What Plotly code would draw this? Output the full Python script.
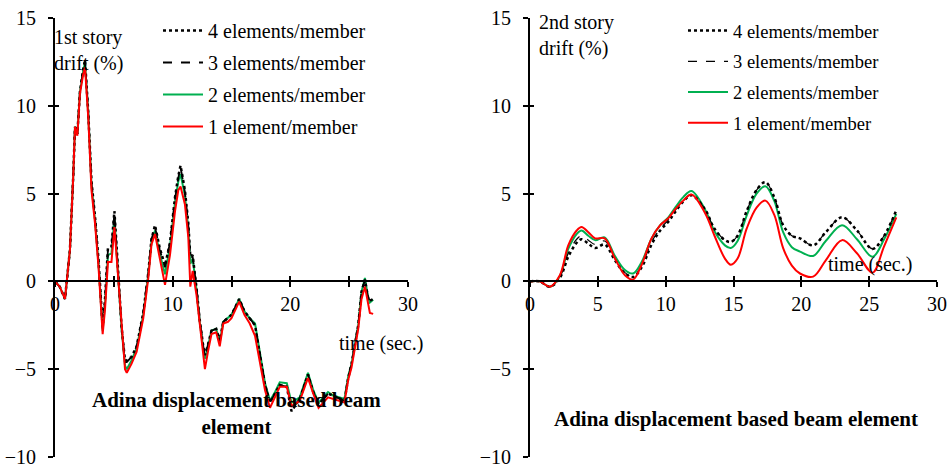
import plotly.graph_objects as go

# ---------------- data: 1st story (left) ----------------
t_left = [0, 0.4, 0.85, 1.27, 1.55, 1.7, 1.9, 2.12, 2.4, 2.55, 2.83, 3.1, 3.4, 3.7, 4.05, 4.25,
          4.5, 4.8, 5.05, 5.4, 5.66, 5.95, 6.1, 6.5, 6.94, 7.5, 7.93, 8.2, 8.5, 8.9, 9.35, 9.77,
          10.2, 10.48, 10.67, 11.04, 11.33, 11.5, 11.7, 12.03, 12.3, 12.6, 12.74, 13.0, 13.3, 13.7,
          14.0, 14.3, 14.7, 15.0, 15.3, 15.65, 16.1, 16.55, 17.0, 17.4, 17.85, 18.27, 18.7, 19.1,
          19.7, 20.1, 20.8, 21.5, 21.95, 22.4, 23.2, 23.65, 24.2, 24.6, 24.92, 25.2, 25.77, 26.05,
          26.34, 26.6, 26.76, 27.04]

left_1el = [0, -0.3, -1.0, 1.8, 6.0, 8.8, 8.3, 10.7, 11.8, 12.2, 9.3, 5.2, 3.3, 0.8, -3.0, -1.6,
            1.1, 1.1, 3.1, -0.1, -2.9, -5.0, -5.2, -4.7, -4.0, -2.1, 0.2, 2.1, 2.7, 1.3, -0.2, 1.5,
            4.0, 5.2, 5.4, 4.4, 2.5, -0.3, 0.6, -0.8, -2.5, -4.0, -5.0, -4.0, -3.0, -2.9,
            -3.7, -2.4, -2.3, -2.1, -1.7, -1.15, -1.9, -2.4, -3.1, -4.6, -6.2, -7.2, -6.6, -6.0,
            -6.0, -7.1, -6.8, -5.5, -6.4, -7.2, -6.6, -6.7, -6.8, -6.9, -5.6, -4.9, -2.7, -1.0,
            -0.3, -1.2, -1.8, -1.85]

left_2el = [0, -0.3, -1.0, 1.8, 6.0, 8.8, 8.4, 10.8, 12.0, 12.45, 9.5, 5.5, 3.5, 1.0, -2.8, -1.3,
            1.5, 1.6, 3.6, 0.2, -2.7, -4.8, -5.0, -4.5, -3.8, -1.9, 0.4, 2.3, 2.9, 1.6, 0.4, 2.0,
            4.5, 5.7, 6.1, 4.9, 3.0, 1.0, 1.3, -0.5, -2.3, -3.8, -4.4, -3.7, -2.8, -2.7,
            -3.5, -2.3, -2.1, -1.9, -1.5, -1.0, -1.7, -2.1, -2.4, -4.0, -5.8, -6.8, -6.3, -5.75,
            -5.8, -6.9, -6.6, -5.2, -6.2, -6.9, -6.3, -6.5, -6.6, -6.7, -5.4, -4.7, -2.5, -0.6,
            0.2, -0.9, -1.2, -1.05]

left_3el = [0, -0.3, -1.0, 1.8, 6.0, 8.8, 8.4, 10.8, 12.1, 12.55, 9.6, 5.6, 3.6, 1.1, -2.7, -1.1,
            1.8, 1.9, 3.9, 0.3, -2.6, -4.6, -4.6, -4.3, -3.7, -1.8, 0.5, 2.4, 3.1, 1.8, 0.8, 2.2,
            4.7, 5.9, 6.5, 5.1, 3.2, 1.3, 1.4, -0.4, -2.2, -3.7, -4.3, -3.6, -2.8, -2.7,
            -3.4, -2.3, -2.1, -1.9, -1.5, -1.0, -1.7, -2.1, -2.5, -4.1, -5.9, -6.9, -6.4, -5.9,
            -6.0, -7.3, -6.7, -5.3, -6.3, -7.0, -6.4, -6.5, -6.7, -6.8, -5.5, -4.7, -2.5, -0.6,
            0.1, -0.9, -1.1, -1.0]

left_4el = [0, -0.3, -1.0, 1.8, 6.0, 8.8, 8.4, 10.8, 12.1, 12.6, 9.6, 5.7, 3.7, 1.2, -2.6, -1.0,
            1.9, 2.0, 4.0, 0.3, -2.6, -4.5, -4.5, -4.3, -3.7, -1.8, 0.5, 2.4, 3.2, 1.9, 0.9, 2.2,
            4.8, 6.0, 6.6, 5.2, 3.3, 1.4, 1.5, -0.4, -2.2, -3.7, -4.2, -3.6, -2.8, -2.7,
            -3.4, -2.3, -2.1, -1.9, -1.5, -1.0, -1.7, -2.1, -2.5, -4.1, -5.9, -6.9, -6.4, -5.9,
            -6.0, -7.4, -6.7, -5.3, -6.3, -7.0, -6.4, -6.5, -6.7, -6.8, -5.5, -4.7, -2.5, -0.6,
            0.1, -0.9, -1.1, -1.0]

# ---------------- data: 2nd story (right) ----------------
t_right = [0, 0.7, 1.47, 2.2, 2.82, 3.44, 3.8, 4.3, 4.8, 5.5, 6.26, 7.0, 7.6, 8.23, 8.96, 9.6,
           10.2, 10.7, 11.3, 11.9, 12.9, 13.6, 14.37, 14.8, 15.3, 15.97, 16.7, 17.35, 18.0,
           18.66, 19.3, 19.9, 20.87, 21.8, 23.0, 24.1, 25.25, 26.1, 27.0]

right_1el = [0, 0, -0.3, 0.35, 2.05, 2.9, 3.1, 2.8, 2.45, 2.45, 1.3, 0.35, 0.1, 0.95, 2.45, 3.2,
             3.6, 4.1, 4.6, 4.95, 3.9, 2.6, 1.3, 0.95, 1.3, 3.0, 4.2, 4.6, 3.8,
             1.9, 0.9, 0.45, 0.27, 1.2, 2.35, 1.6, 0.5, 2.0, 3.65]

right_2el = [0, 0, -0.3, 0.3, 1.85, 2.7, 2.9, 2.6, 2.35, 2.5, 1.45, 0.65, 0.45, 1.1, 2.45, 3.2,
             3.65, 4.2, 4.8, 5.15, 4.1, 2.85, 2.05, 1.9, 2.3, 3.75, 5.0, 5.42, 4.6,
             2.8, 1.95, 1.7, 1.45, 2.3, 3.2, 2.4, 1.4, 2.4, 3.85]

right_3el = [0, 0, -0.3, 0.25, 1.6, 2.4, 2.6, 2.35, 2.1, 2.3, 1.3, 0.5, 0.3, 0.9, 2.25, 3.0,
             3.5, 4.05, 4.6, 4.95, 4.1, 3.0, 2.35, 2.25, 2.6, 4.0, 5.2, 5.65, 4.8,
             3.2, 2.6, 2.45, 2.05, 2.8, 3.65, 2.9, 1.85, 2.6, 4.05]

right_4el = [0, 0, -0.3, 0.2, 1.4, 2.2, 2.4, 2.15, 1.9, 2.1, 1.2, 0.45, 0.25, 0.8, 2.1, 2.9,
             3.4, 3.95, 4.55, 4.9, 4.1, 3.0, 2.35, 2.25, 2.6, 4.0, 5.2, 5.65, 4.8,
             3.2, 2.6, 2.45, 2.05, 2.8, 3.65, 2.9, 1.85, 2.6, 4.05]

names = ["4 elements/member", "3 elements/member", "2 elements/member", "1 element/member"]
x_ticks = [0, 5, 10, 15, 20, 25, 30]
x_text_left = ["0", "", "10", "", "20", "", "30"]
x_text_right = ["0", "5", "10", "15", "20", "25", "30"]
y_ticks = [-10, -5, 0, 5, 10, 15]

FONT = "Liberation Serif"
GREEN = "#00B050"
RED = "#FF0000"

fig = go.Figure()

# draw order: green, dashed, dotted, red (red on top); legend order via legendrank
def add_series(t, vals, xa, ya, legend, shape, thin_dash):
    fig.add_trace(go.Scatter(x=t, y=vals[2], xaxis=xa, yaxis=ya, mode="lines", name=names[2],
                             legend=legend, legendrank=3, legendgroup=legend + "c",
                             line=dict(color=GREEN, width=2, shape=shape)))
    fig.add_trace(go.Scatter(x=t, y=vals[1], xaxis=xa, yaxis=ya, mode="lines", name=names[1],
                             legend=legend, legendrank=2, legendgroup=legend + "b",
                             line=dict(color="black", width=thin_dash, dash="dash", shape=shape)))
    fig.add_trace(go.Scatter(x=t, y=vals[0], xaxis=xa, yaxis=ya, mode="lines", name=names[0],
                             legend=legend, legendrank=1, legendgroup=legend + "a",
                             line=dict(color="black", width=2.5, dash="dot", shape=shape)))
    fig.add_trace(go.Scatter(x=t, y=vals[3], xaxis=xa, yaxis=ya, mode="lines", name=names[3],
                             legend=legend, legendrank=4, legendgroup=legend + "d",
                             line=dict(color=RED, width=2, shape=shape)))

add_series(t_left, [left_4el, left_3el, left_2el, left_1el], "x", "y", "legend", "linear", 1.8)
add_series(t_right, [right_4el, right_3el, right_2el, right_1el], "x2", "y2", "legend2", "spline", 1.2)

# invisible traces for the overlay axes that draw the inner half of the crossing ticks
for xa, ya in (("x3", "y3"), ("x4", "y4")):
    fig.add_trace(go.Scatter(x=[], y=[], xaxis=xa, yaxis=ya, showlegend=False, hoverinfo="skip"))

W, H = 949, 470
dom_left = [55 / W, 408 / W]
dom_right = [530 / W, 937 / W]
dom_y = [1 - 457 / H, 1 - 18 / H]
y_range = [-10, 15]
zero_pos = dom_y[0] + (0 - y_range[0]) / (y_range[1] - y_range[0]) * (dom_y[1] - dom_y[0])

tickfont = dict(family=FONT, size=20, color="black")
common_x = dict(range=[0, 30], tickmode="array", tickvals=x_ticks, showgrid=False, zeroline=False,
                showline=True, linecolor="black", linewidth=2, ticks="outside", ticklen=5,
                tickwidth=2, tickcolor="black", anchor="free", position=zero_pos,
                tickfont=tickfont, automargin=False, ticklabeloverflow="allow")
common_y = dict(range=y_range, tickmode="array", tickvals=y_ticks, showgrid=False, zeroline=False,
                showline=True, linecolor="black", linewidth=2, ticks="outside", ticklen=5,
                tickwidth=2, tickcolor="black", domain=dom_y, tickfont=tickfont, automargin=False,
                ticklabeloverflow="allow", ticklabelstandoff=8)

overlay_common = dict(tickmode="array", showticklabels=False, showgrid=False, zeroline=False,
                      showline=False, ticks="inside", tickwidth=2, tickcolor="black")

fig.update_layout(
    width=W, height=H, margin=dict(l=0, r=0, t=0, b=0),
    plot_bgcolor="white", paper_bgcolor="white",
    font=dict(family=FONT, size=20, color="black"),
    xaxis=dict(domain=dom_left, ticktext=x_text_left, **common_x),
    yaxis=dict(anchor="x", **common_y),
    xaxis2=dict(domain=dom_right, ticktext=x_text_right, **common_x),
    yaxis2=dict(anchor="x2", **common_y),
    xaxis3=dict(overlaying="x", range=[0, 30], tickvals=x_ticks, ticklen=5,
                anchor="free", position=zero_pos, domain=dom_left, **overlay_common),
    yaxis3=dict(overlaying="y", range=y_range, tickvals=y_ticks, ticklen=4,
                anchor="x3", domain=dom_y, **overlay_common),
    xaxis4=dict(overlaying="x2", range=[0, 30], tickvals=x_ticks, ticklen=5,
                anchor="free", position=zero_pos, domain=dom_right, **overlay_common),
    yaxis4=dict(overlaying="y2", range=y_range, tickvals=y_ticks, ticklen=4,
                anchor="x4", domain=dom_y, **overlay_common),
    legend=dict(x=158 / W, y=1 - 11 / H, xanchor="left", yanchor="top",
                font=dict(family=FONT, size=20, color="black"), bgcolor="rgba(0,0,0,0)",
                traceorder="grouped", tracegroupgap=3, itemwidth=40),
    legend2=dict(x=683 / W, y=1 - 12 / H, xanchor="left", yanchor="top",
                 font=dict(family=FONT, size=18.5, color="black"), bgcolor="rgba(0,0,0,0)",
                 traceorder="grouped", tracegroupgap=3.7, itemwidth=40),
    showlegend=True,
)

ann_font = dict(family=FONT, size=20, color="black")
fig.add_annotation(xref="paper", yref="paper", x=52 / W, y=1 - 24 / H, xanchor="left", yanchor="top",
                   text="1st story<br>drift (%)", showarrow=False, align="left", font=ann_font)
fig.add_annotation(xref="paper", yref="paper", x=537 / W, y=1 - 9 / H, xanchor="left", yanchor="top",
                   text="2nd story<br>drift (%)", showarrow=False, align="left", font=ann_font)
fig.add_annotation(xref="x", yref="y", x=24.0, y=-3.55, xanchor="left", yanchor="middle",
                   text="time (sec.)", showarrow=False, font=ann_font)
fig.add_annotation(xref="x2", yref="y2", x=21.85, y=0.95, xanchor="left", yanchor="middle",
                   text="time (sec.)", showarrow=False, font=ann_font)
fig.add_annotation(xref="x", yref="y", x=15.4, y=-7.55, xanchor="center", yanchor="middle",
                   text="<b>Adina displacement based beam<br>element</b>", showarrow=False,
                   align="center", font=dict(family=FONT, size=21, color="black"))
fig.add_annotation(xref="x2", yref="y2", x=15.2, y=-7.85, xanchor="center", yanchor="middle",
                   text="<b>Adina displacement based beam element</b>", showarrow=False,
                   font=dict(family=FONT, size=21, color="black"))

fig.write_html("out.html")
